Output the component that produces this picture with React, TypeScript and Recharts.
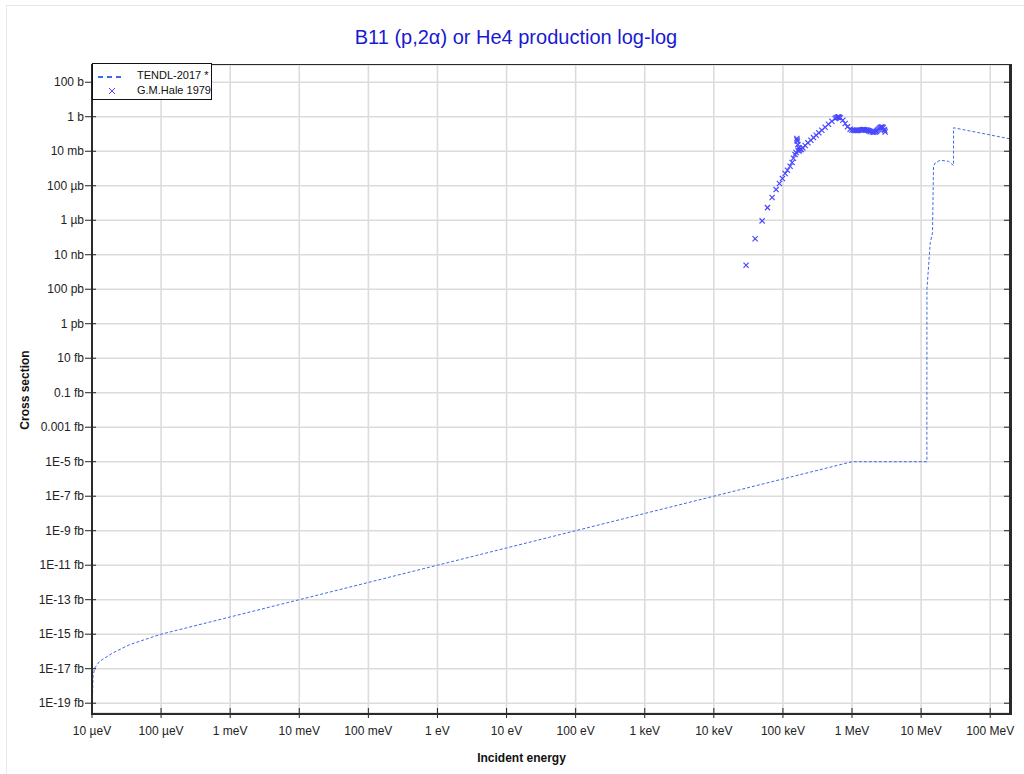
import { ComposedChart, Line, Scatter, XAxis, YAxis, CartesianGrid } from "recharts";

// x axis: incident energy in eV
const energyTicks = [1e-5, 1e-4, 1e-3, 1e-2, 1e-1, 1, 10, 100, 1e3, 1e4, 1e5, 1e6, 1e7, 1e8];
const energyLabels = [
  "10 µeV", "100 µeV", "1 meV", "10 meV", "100 meV", "1 eV", "10 eV",
  "100 eV", "1 keV", "10 keV", "100 keV", "1 MeV", "10 MeV", "100 MeV",
];

// y axis: cross section in barns
const xsTicks = [
  1e2, 1, 1e-2, 1e-4, 1e-6, 1e-8, 1e-10, 1e-12, 1e-14, 1e-16, 1e-18,
  1e-20, 1e-22, 1e-24, 1e-26, 1e-28, 1e-30, 1e-32, 1e-34,
];
const xsLabels = [
  "100 b", "1 b", "10 mb", "100 µb", "1 µb", "10 nb", "100 pb", "1 pb",
  "10 fb", "0.1 fb", "0.001 fb", "1E-5 fb", "1E-7 fb", "1E-9 fb", "1E-11 fb",
  "1E-13 fb", "1E-15 fb", "1E-17 fb", "1E-19 fb",
];

// TENDL-2017 evaluation
const tendlEnergy = [
  1.0e-5, 1.013e-5, 1.035e-5, 1.094e-5, 1.29e-5, 2.01e-5, 3.52e-5, 1e-4,
  1e-3, 1e-2, 1e-1, 1, 10, 100, 1e3, 1e4, 1e5, 1e6, 1.212e7, 1.214e7,
  1.355e7, 1.462e7, 1.512e7, 1.6e7, 1.891e7, 2.496e7, 2.948e7, 2.95e7, 2e8,
];
const tendlXs = [
  2.7e-35, 1.6e-34, 3.6e-33, 1.1e-32, 2.7e-32, 8.3e-32, 2.5e-31, 1e-30,
  1e-29, 1e-28, 1e-27, 1e-26, 1e-25, 1e-24, 1e-23, 1e-22, 1e-21, 1e-20, 1e-20, 9.5e-11,
  4.9e-8, 1.86e-7, 1.35e-3, 2.1e-3, 3.0e-3, 2.6e-3, 1.5e-3, 0.23, 0.051,
];

// G.M.Hale 1979 measurement
const haleEnergy = [
  2.93e4, 3.96e4, 5.0e4, 5.97e4, 6.98e4, 7.97e4, 8.9e4, 9.84e4, 1.077e5, 1.162e5,
  1.271e5, 1.359e5, 1.419e5, 1.503e5, 1.55e5, 1.589e5, 1.6e5, 1.622e5, 1.644e5, 1.66e5,
  1.7e5, 1.72e5, 1.774e5, 1.853e5, 1.941e5, 2.1e5, 2.3e5, 2.54e5, 2.77e5, 3.03e5,
  3.31e5, 3.66e5, 4.08e5, 4.56e5, 5.11e5, 5.7e5, 5.9e5, 6.15e5, 6.3e5, 6.4e5,
  6.55e5, 6.73e5, 7.36e5, 7.96e5, 8.59e5, 9.4e5, 1.0e6, 1.05e6, 1.1e6, 1.148e6,
  1.19e6, 1.24e6, 1.312e6, 1.36e6, 1.42e6, 1.47e6, 1.53e6, 1.603e6, 1.66e6, 1.73e6,
  1.774e6, 1.85e6, 1.959e6, 2.06e6, 2.163e6, 2.24e6, 2.312e6, 2.39e6, 2.472e6, 2.56e6,
  2.642e6, 2.73e6, 2.825e6, 2.917e6, 2.97e6, 3.02e6,
];
const haleXs = [
  2.46e-9, 8.4e-8, 9.2e-7, 5.4e-6, 2.07e-5, 6.0e-5, 1.34e-4, 2.61e-4, 5.1e-4, 7.9e-4,
  1.35e-3, 2.21e-3, 3.93e-3, 6.4e-3, 8.5e-3, 5.45e-2, 4.5e-2, 3.8e-2, 2.44e-2, 1.1e-2,
  1.57e-2, 1.05e-2, 1.26e-2, 1.26e-2, 1.57e-2, 2.14e-2, 3.07e-2, 4.35e-2, 6.2e-2, 8.5e-2,
  0.117, 0.165, 0.246, 0.367, 0.548, 0.787, 0.87, 0.935, 0.95, 0.95,
  0.93, 0.863, 0.627, 0.404, 0.26, 0.188, 0.17, 0.165, 0.16, 0.158,
  0.16, 0.165, 0.169, 0.172, 0.178, 0.181, 0.176, 0.169, 0.163, 0.158,
  0.148, 0.14, 0.13, 0.128, 0.13, 0.142, 0.158, 0.18, 0.207, 0.235,
  0.253, 0.25, 0.24, 0.181, 0.16, 0.13,
];

const tendl = tendlEnergy.map((e, i) => ({ e, xs: tendlXs[i] }));
const hale = haleEnergy.map((e, i) => ({ e, xs: haleXs[i] }));

const W = 1024;
const H = 774;
const PLOT_W = 919;
const FONT = "'Liberation Sans', Arial, Helvetica, sans-serif";
const LINE_COLOR = "#3f6ae6";
const MARK_COLOR = "#4848ff";

const XTick = ({ x, y, payload }: any) => {
  const label = energyLabels[energyTicks.indexOf(payload.value)];
  return (
    <g>
      <line x1={x} x2={x} y1={y - 5} y2={y + 5} stroke="#222" strokeWidth={1} />
      <text x={x} y={y + 22} textAnchor="middle" fontSize={12} fill="#222" fontFamily={FONT}>
        {label}
      </text>
    </g>
  );
};

const YTick = ({ x, y, payload }: any) => {
  const label = xsLabels[xsTicks.indexOf(payload.value)];
  return (
    <g>
      <line x1={x - 7} x2={x + 4} y1={y} y2={y} stroke="#222" strokeWidth={1} />
      <line x1={x + PLOT_W - 7} x2={x + PLOT_W} y1={y} y2={y} stroke="#222" strokeWidth={1} />
      <text x={x - 8} y={y + 4} textAnchor="end" fontSize={12} fill="#222" fontFamily={FONT}>
        {label}
      </text>
    </g>
  );
};

const Cross = ({ cx, cy }: any) => {
  if (cx == null || cy == null) return null;
  const s = 2.6;
  return (
    <g stroke={MARK_COLOR} strokeWidth={1.2}>
      <line x1={cx - s} y1={cy - s} x2={cx + s} y2={cy + s} />
      <line x1={cx - s} y1={cy + s} x2={cx + s} y2={cy - s} />
    </g>
  );
};

export default function App() {
  return (
    <div style={{ position: "absolute", left: 0, top: 0, width: W, height: H, background: "#fff", fontFamily: FONT }}>
      {/* faint outer frame */}
      <div style={{ position: "absolute", left: 6, top: 5, width: 1030, height: 780, border: "1px solid #e8e8e8" }} />

      <div style={{ position: "absolute", left: 0, top: 26, width: 1032, textAlign: "center", fontSize: 20, color: "#1a1ad0" }}>
        B11 (p,2α) or He4 production log-log
      </div>

      <div style={{ position: "absolute", left: 0, top: 0 }}>
        <ComposedChart width={W} height={H} margin={{ top: 65, right: 13, bottom: 21, left: 0 }}>
          <CartesianGrid stroke="#dcdcdc" strokeWidth={1.6} />
          <XAxis
            dataKey="e"
            type="number"
            scale="log"
            domain={[1e-5, 2e8]}
            allowDataOverflow
            ticks={energyTicks}
            interval={0}
            height={40}
            axisLine={false}
            tickLine={false}
            tickSize={0}
            tickMargin={0}
            tick={<XTick />}
          />
          <YAxis
            dataKey="xs"
            type="number"
            scale="log"
            domain={[2.7e-35, 1e3]}
            allowDataOverflow
            ticks={xsTicks}
            interval={0}
            width={92}
            axisLine={false}
            tickLine={false}
            tickSize={0}
            tickMargin={0}
            tick={<YTick />}
          />
          <Line
            data={tendl}
            dataKey="xs"
            type="linear"
            stroke={LINE_COLOR}
            strokeWidth={1}
            strokeDasharray="3 2"
            dot={false}
            isAnimationActive={false}
          />
          <Scatter data={hale} dataKey="xs" shape={<Cross />} isAnimationActive={false} />
        </ComposedChart>
      </div>

      {/* plot frame */}
      <div
        style={{
          position: "absolute",
          left: 91,
          top: 64,
          width: 921,
          height: 651,
          boxSizing: "border-box",
          borderLeft: "2px solid #2a2a2a",
          borderTop: "1px solid #2a2a2a",
          borderRight: "3px solid #2a2a2a",
          borderBottom: "2px solid #2a2a2a",
          pointerEvents: "none",
        }}
      />

      {/* legend */}
      <div
        style={{
          position: "absolute",
          left: 92,
          top: 63,
          width: 120,
          height: 37,
          boxSizing: "border-box",
          border: "1px solid #111",
          background: "#fff",
          fontSize: 11,
          color: "#111",
        }}
      >
        <svg width={40} height={35} style={{ position: "absolute", left: 0, top: 0 }}>
          <line x1={5} x2={31} y1={13} y2={13} stroke={LINE_COLOR} strokeWidth={2} strokeDasharray="5 4" />
          <line x1={16} y1={24} x2={22} y2={30} stroke={MARK_COLOR} strokeWidth={1} />
          <line x1={16} y1={30} x2={22} y2={24} stroke={MARK_COLOR} strokeWidth={1} />
        </svg>
        <div style={{ position: "absolute", left: 44, top: 5, whiteSpace: "nowrap" }}>TENDL-2017 *</div>
        <div style={{ position: "absolute", left: 44, top: 20, whiteSpace: "nowrap" }}>G.M.Hale 1979</div>
      </div>

      <div style={{ position: "absolute", left: 0, top: 751, width: 1043, textAlign: "center", fontSize: 12, fontWeight: "bold", color: "#111" }}>
        Incident energy
      </div>
      <div
        style={{
          position: "absolute",
          left: 25,
          top: 390,
          transform: "translate(-50%, -50%) rotate(-90deg)",
          fontSize: 12,
          fontWeight: "bold",
          color: "#111",
          whiteSpace: "nowrap",
        }}
      >
        Cross section
      </div>
    </div>
  );
}
